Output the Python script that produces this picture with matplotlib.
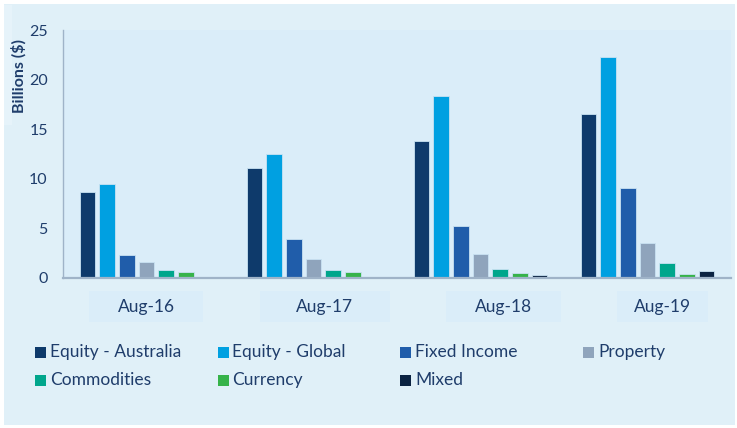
import matplotlib
matplotlib.use("Agg")
import matplotlib.pyplot as plt
from matplotlib.patches import Rectangle
import numpy as np

plt.rcParams['font.family'] = ['Lato', 'DejaVu Sans']

# data (billions $)
periods = ["Aug-16", "Aug-17", "Aug-18", "Aug-19"]
series_names = ["Equity - Australia", "Equity - Global", "Fixed Income", "Property",
                "Commodities", "Currency", "Mixed"]
equity_aus = [8.7, 11.1, 13.8, 16.5]
equity_global = [9.5, 12.5, 18.3, 22.3]
fixed_income = [2.3, 3.9, 5.2, 9.1]
property_ = [1.6, 1.9, 2.4, 3.5]
commodities = [0.75, 0.8, 0.9, 1.5]
currency = [0.55, 0.55, 0.5, 0.35]
mixed = [0.0, 0.0, 0.25, 0.65]
values = [equity_aus, equity_global, fixed_income, property_, commodities, currency, mixed]

colors = ["#0e3a6b", "#00a0e1", "#205daa", "#8fa4bc", "#00a68c", "#36b34a", "#0b2342"]
text_col = "#1f3d6b"
bg_col = "#e0f0f8"
plot_bg = "#daedf9"

W, H = 737, 428


def fx(px):
    return px / W


def fy(py):
    return 1 - py / H


fig = plt.figure(figsize=(W / 100, H / 100), dpi=100)
fig.patch.set_facecolor("white")
# outer panel
fig.patches.append(Rectangle((fx(4), fy(425)), fx(731), (421) / H, transform=fig.transFigure,
                             facecolor=bg_col, edgecolor="none", zorder=-10))
fig.patches.append(Rectangle((fx(4), fy(125)), fx(8), 120 / H, transform=fig.transFigure,
                             facecolor="#e6f3fa", edgecolor="none", zorder=-9))

ax = fig.add_axes([fx(63), fy(277.7), fx(731) - fx(63), fy(30) - fy(277.7)])
ax.set_facecolor(plot_bg)

x = np.arange(len(periods))
pitch = 0.118
width = 0.094
for i, (name, vals) in enumerate(zip(series_names, values)):
    offs = (i - 3) * pitch
    ax.bar(x + offs, vals, width, color=colors[i], edgecolor="#c9e2f2", linewidth=0.6,
           label=name, zorder=2)

ax.set_xlim(-0.5, 3.5)
ax.set_ylim(0, 25)
ax.set_yticks([0, 5, 10, 15, 20, 25])
ax.set_xticks([])
ax.tick_params(axis="y", length=0, pad=11, labelsize=11.5, labelcolor=text_col)
for s in ["top", "right"]:
    ax.spines[s].set_visible(False)
ax.spines["left"].set_color("#9fb3c8")
ax.spines["left"].set_linewidth(1.0)
ax.spines["bottom"].set_color("#9fb3c8")
ax.spines["bottom"].set_linewidth(1.6)

fig.text(fx(18.5), fy(76), "Billions ($)", rotation=90, ha="center", va="center",
         fontsize=11.5, fontweight="bold", color=text_col)

# category label boxes
box_px = [(89, 203), (260, 390), (446, 561), (617, 708)]
for lab, (x0, x1) in zip(periods, box_px):
    fig.patches.append(Rectangle((fx(x0), fy(322)), fx(x1 - x0), 31 / H, transform=fig.transFigure,
                                 facecolor=plot_bg, edgecolor="none", zorder=-5))
    fig.text(fx((x0 + x1) / 2), fy(307), lab, ha="center", va="center",
             fontsize=12.5, color=text_col)

# legend grid
col_px = [35, 217.5, 400, 583]
row_py = [352, 380]
for i, name in enumerate(series_names):
    cx = col_px[i % 4]
    cy = row_py[i // 4]
    fig.patches.append(Rectangle((fx(cx), fy(cy + 5.5)), fx(11), 11 / H, transform=fig.transFigure,
                                 facecolor=colors[i], edgecolor="none"))
    fig.text(fx(cx + 15), fy(cy), name, ha="left", va="center", fontsize=12.5, color=text_col)

fig.savefig("out.png", dpi=100, facecolor=fig.get_facecolor())
